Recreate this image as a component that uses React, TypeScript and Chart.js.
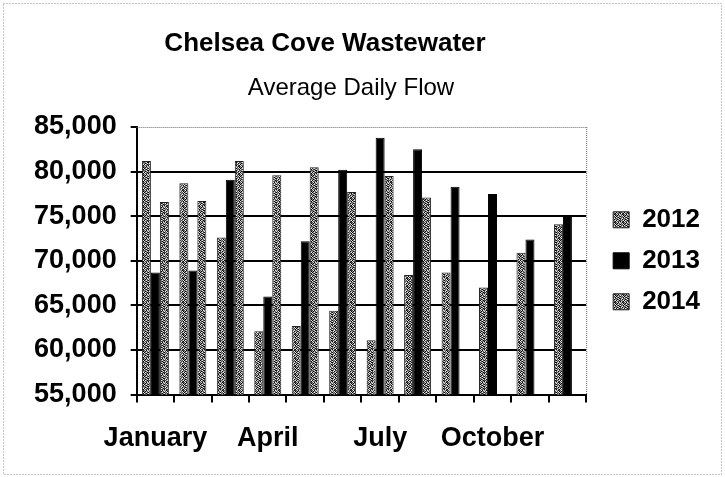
import React, { useEffect, useRef } from "react";
import { Chart, registerables } from "chart.js";

Chart.register(...registerables);

const titleText = "Chelsea Cove Wastewater";
const subtitleText = "Average Daily Flow";
const months = [
  "January", "February", "March", "April", "May", "June",
  "July", "August", "September", "October", "November", "December",
];
const shownMonths = ["January", "April", "July", "October"];
const series2012 = [81200, 78700, 72600, 62100, 62700, 64400, 61100, 68400, 68700, 67000, 70900, 74100];
const series2013 = [68700, 68900, 79100, 66000, 72200, 80200, 83800, 82500, 78300, 77500, 72400, 74900];
const series2014 = [76600, 76700, 81200, 79600, 80500, 77700, 79500, 77100, null, null, null, null];
const yMin = 55000;
const yMax = 85000;
const yStep = 5000;

const FONT = "'Liberation Sans', Arial, Helvetica, sans-serif";

const PATTERN_ROWS = [
  "02310213",
  "31023120",
  "12300231",
  "20131302",
  "03201123",
  "31120310",
  "13032201",
  "20213130",
];
const SHADES = ["#000000", "#4e4e4e", "#969696", "#e4e4e4"];

function makePattern(): CanvasPattern | string {
  const c = document.createElement("canvas");
  c.width = 8;
  c.height = 8;
  const g = c.getContext("2d");
  if (!g) return "#808080";
  PATTERN_ROWS.forEach((row, y) => {
    for (let x = 0; x < row.length; x++) {
      g.fillStyle = SHADES[Number(row[x])];
      g.fillRect(x, y, 1, 1);
    }
  });
  const p = g.createPattern(c, "repeat");
  return p || "#808080";
}

const framePlugin = {
  id: "frames",
  beforeDraw(chart: any) {
    const { ctx, width, height } = chart;
    ctx.save();
    ctx.fillStyle = "#ffffff";
    ctx.fillRect(0, 0, width, height);
    ctx.strokeStyle = "#8a8a8a";
    ctx.lineWidth = 1;
    ctx.setLineDash([1, 2]);
    ctx.strokeRect(3.5, 3.5, width - 7, height - 6);
    ctx.setLineDash([]);
    // titles
    ctx.fillStyle = "#000";
    ctx.textAlign = "center";
    ctx.textBaseline = "middle";
    ctx.font = `bold 26px ${FONT}`;
    ctx.fillText(titleText, 325, 44);
    ctx.font = `normal 24px ${FONT}`;
    ctx.fillText(subtitleText, 351, 88);
    ctx.restore();
  },
  beforeDatasetsDraw(chart: any) {
    const { ctx, chartArea } = chart;
    ctx.save();
    ctx.strokeStyle = "#6a6a6a";
    ctx.lineWidth = 1;
    ctx.setLineDash([1, 1]);
    ctx.beginPath();
    ctx.moveTo(chartArea.left, chartArea.top + 0.5);
    ctx.lineTo(chartArea.right, chartArea.top + 0.5);
    ctx.moveTo(chartArea.right + 0.5, chartArea.top);
    ctx.lineTo(chartArea.right + 0.5, chartArea.bottom);
    ctx.stroke();
    ctx.restore();
  },
};

export default function App() {
  const ref = useRef<HTMLCanvasElement | null>(null);

  useEffect(() => {
    if (!ref.current) return;
    const pattern = makePattern();
    const chart = new Chart(ref.current, {
      type: "bar",
      data: {
        labels: months,
        datasets: [
          {
            label: "2012",
            data: series2012,
            backgroundColor: pattern as any,
            borderColor: "#222222",
            borderWidth: 1,
          },
          {
            label: "2013",
            data: series2013,
            backgroundColor: "#000000",
            borderColor: "#000000",
            borderWidth: 1,
          },
          {
            label: "2014",
            data: series2014,
            backgroundColor: pattern as any,
            borderColor: "#222222",
            borderWidth: 1,
          },
        ],
      },
      options: {
        responsive: false,
        animation: false,
        devicePixelRatio: 1,
        datasets: {
          bar: { categoryPercentage: 0.72, barPercentage: 1.0 },
        },
        layout: { padding: { left: 22, right: 15, top: 127, bottom: 2 } },
        plugins: {
          title: { display: false },
          subtitle: { display: false },
          legend: {
            display: true,
            position: "right",
            fullSize: false,
            labels: {
              color: "#000",
              font: { family: FONT, size: 26, weight: "bold" },
              boxWidth: 16,
              boxHeight: 16,
              padding: 15,
            },
          },
          tooltip: { enabled: false },
        },
        scales: {
          x: {
            grid: {
              display: true,
              drawOnChartArea: false,
              drawTicks: true,
              tickLength: 8,
              color: "#000",
              lineWidth: 2,
            },
            border: { display: true, color: "#000", width: 2 },
            ticks: {
              autoSkip: false,
              maxRotation: 0,
              color: "#000",
              padding: 20,
              font: { family: FONT, size: 27, weight: "bold" },
              callback: (_v: any, i: number) =>
                shownMonths.includes(months[i]) ? months[i] : "",
            },
          },
          y: {
            min: yMin,
            max: yMax,
            grid: {
              color: (c: any) =>
                c.tick && c.tick.value === yMax ? "rgba(0,0,0,0)" : "#000",
              tickColor: "#000",
              lineWidth: 2,
              tickLength: 6,
            },
            border: { display: true, color: "#000", width: 2 },
            ticks: {
              stepSize: yStep,
              color: "#000",
              padding: 14,
              font: { family: FONT, size: 27, weight: "bold" },
              callback: (v: any) => Number(v).toLocaleString("en-US"),
            },
          },
          pad: {
            type: "linear",
            position: "right",
            display: true,
            grid: { display: false },
            border: { display: false },
            ticks: { display: false },
            afterFit: (s: any) => {
              s.width = 12;
            },
          } as any,
        },
      },
      plugins: [framePlugin],
    });
    return () => chart.destroy();
  }, []);

  return (
    <div style={{ position: "absolute", left: 0, top: 0, width: 725, height: 477 }}>
      <canvas ref={ref} width={725} height={477} style={{ width: 725, height: 477, display: "block" }} />
    </div>
  );
}
